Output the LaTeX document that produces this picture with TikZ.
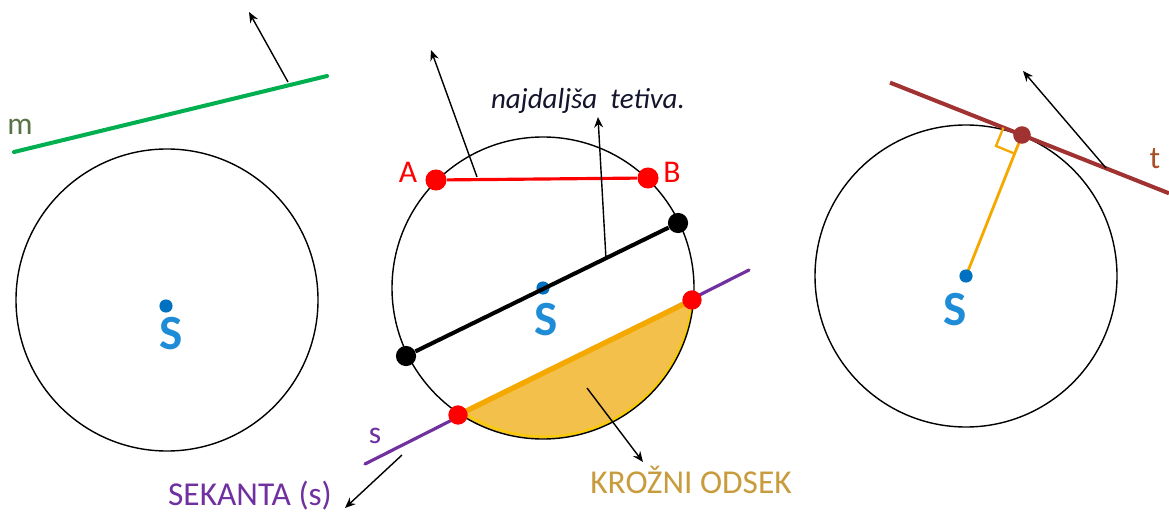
\documentclass[tikz,border=0pt]{standalone}
\usepackage{fontspec}
\setmainfont{Carlito}
\usetikzlibrary{arrows.meta}
\definecolor{cgreen}{RGB}{0,176,80}
\definecolor{cpurple}{RGB}{112,48,160}
\definecolor{cred}{RGB}{255,0,0}
\definecolor{cblue}{RGB}{0,112,192}
\definecolor{cblueS}{RGB}{30,140,215}
\definecolor{cbrown}{RGB}{160,50,50}
\definecolor{corange}{RGB}{245,168,0}
\definecolor{cfill}{RGB}{242,192,75}
\definecolor{cgold}{RGB}{200,155,60}
\definecolor{cmtext}{RGB}{90,115,70}
\definecolor{ctt}{RGB}{170,80,40}
\tikzset{
  circ/.style={draw=black, line width=0.8pt},
  ptr/.style={-{Stealth[length=6pt,width=5pt]}, line width=0.8pt, black},
  bigS/.style={text=cblueS, font=\fontsize{28}{30}\selectfont\bfseries},
  lbl/.style={font=\fontsize{18}{20}\selectfont, inner sep=0pt},
  lblb/.style={font=\fontsize{19}{21}\selectfont, inner sep=0pt},
  dotb/.style={circle, fill=cblue, inner sep=0pt, minimum size=7.5pt},
}
\begin{document}
\begin{tikzpicture}[x=0.02cm,y=-0.02cm]
\useasboundingbox (0,0) rectangle (1169,513);
% ---------- left circle ----------
\coordinate (C1) at (167,300);
\draw[circ] (C1) circle[radius=151];
\node[dotb] (d1) at (166,306) {};
\node[bigS] (S1) at (171,334) {S};
\coordinate (m1) at (14,152);
\coordinate (m2) at (327,76);
\draw[cgreen, line width=2.3pt, line cap=round] (m1) -- (m2);
\node[lbl, text=cmtext] (mlab) at (20,127) {m};
\coordinate (ma) at (288,82);
\coordinate (mb) at (249,12);
\draw[ptr] (ma) -- (mb);
% ---------- middle circle ----------
\coordinate (C2) at (543,288);
\coordinate (P1) at (458,415);
\coordinate (P2) at (692,300);
\coordinate (s1) at (365,464);
\coordinate (s2) at (749,270);
\draw[cpurple, line width=1.8pt, line cap=round] (s1) -- (s2);
\fill[cfill] (P1) -- (P2) arc[start angle=4.6, end angle=123.8, radius=151] -- cycle;
\draw[corange!60!yellow, line width=1.2pt] (P2) arc[start angle=4.6, end angle=123.8, radius=148.5];
\draw[circ] (C2) circle[radius=151];
\draw[corange, line width=3pt] (P1) -- (P2);
\node[circle, fill=cred, inner sep=0pt, minimum size=11pt] (p1) at (P1) {};
\node[circle, fill=cred, inner sep=0pt, minimum size=11pt] (p2) at (P2) {};
% chord AB
\node[circle, fill=cred, inner sep=0pt, minimum size=12pt] (A) at (436,180) {};
\node[circle, fill=cred, inner sep=0pt, minimum size=12pt] (B) at (648,178) {};
\draw[cred, line width=1.8pt] (A) -- (B);
\node[lbl, text=cred] (Alab) at (408,172) {A};
\node[lbl, text=cred] (Blab) at (672,172) {B};
\coordinate (aa) at (477,177);
\coordinate (ab) at (431,50);
\draw[ptr] (aa) -- (ab);
% diameter
\node[dotb] (d2) at (543,288) {};
\node[circle, fill=black, inner sep=0pt, minimum size=11.5pt] (D1) at (406,356) {};
\node[circle, fill=black, inner sep=0pt, minimum size=11.5pt] (D2) at (678,223) {};
\draw[black, line width=2.3pt] (D1) -- (D2);
\node[bigS] (S2) at (546,320) {S};
\coordinate (da) at (606,259);
\coordinate (db) at (598,117);
\draw[ptr] (da) -- (db);
\node[font=\fontsize{16.5}{18}\selectfont\itshape, text={rgb,255:red,20;green,20;blue,45}, inner sep=0pt] (tet) at (588,101) {najdaljša\ \ tetiva.};
% segment arrow and label
\coordinate (ka) at (587,388);
\coordinate (kb) at (643,462);
\draw[ptr] (ka) -- (kb);
\node[lblb, text=cgold] (kod) at (691,480) {KROŽNI ODSEK};
% secant labels
\node[lbl, text=cpurple] (slab) at (375,436) {s};
\coordinate (sa) at (402,455);
\coordinate (sb) at (345,508);
\draw[ptr] (sa) -- (sb);
\node[lblb, text=cpurple] (sek) at (250,496) {SEKANTA (s)};
% ---------- right circle ----------
\coordinate (C3) at (966,276);
\draw[circ] (C3) circle[radius=151];
\coordinate (T) at (1022,135);
\coordinate (t1) at (890,82.6);
\coordinate (t2) at (1169,193.3);
\draw[cbrown, line width=2.3pt] (t1) -- (t2);
\draw[corange, line width=1.6pt] (C3) -- (T);
\draw[corange, line width=1.3pt] (1003.4,127.6) -- (996,146) -- (1014.6,153.6);
\node[circle, fill=cbrown, inner sep=0pt, minimum size=10pt] (Tdot) at (T) {};
\node[dotb] (d3) at (C3) {};
\node[bigS] (S3) at (955,310) {S};
\node[lbl, text=ctt] (tlab) at (1155,159) {t};
\coordinate (ta) at (1106,168);
\coordinate (tb) at (1023,71);
\draw[ptr] (ta) -- (tb);
\end{tikzpicture}
\end{document}
